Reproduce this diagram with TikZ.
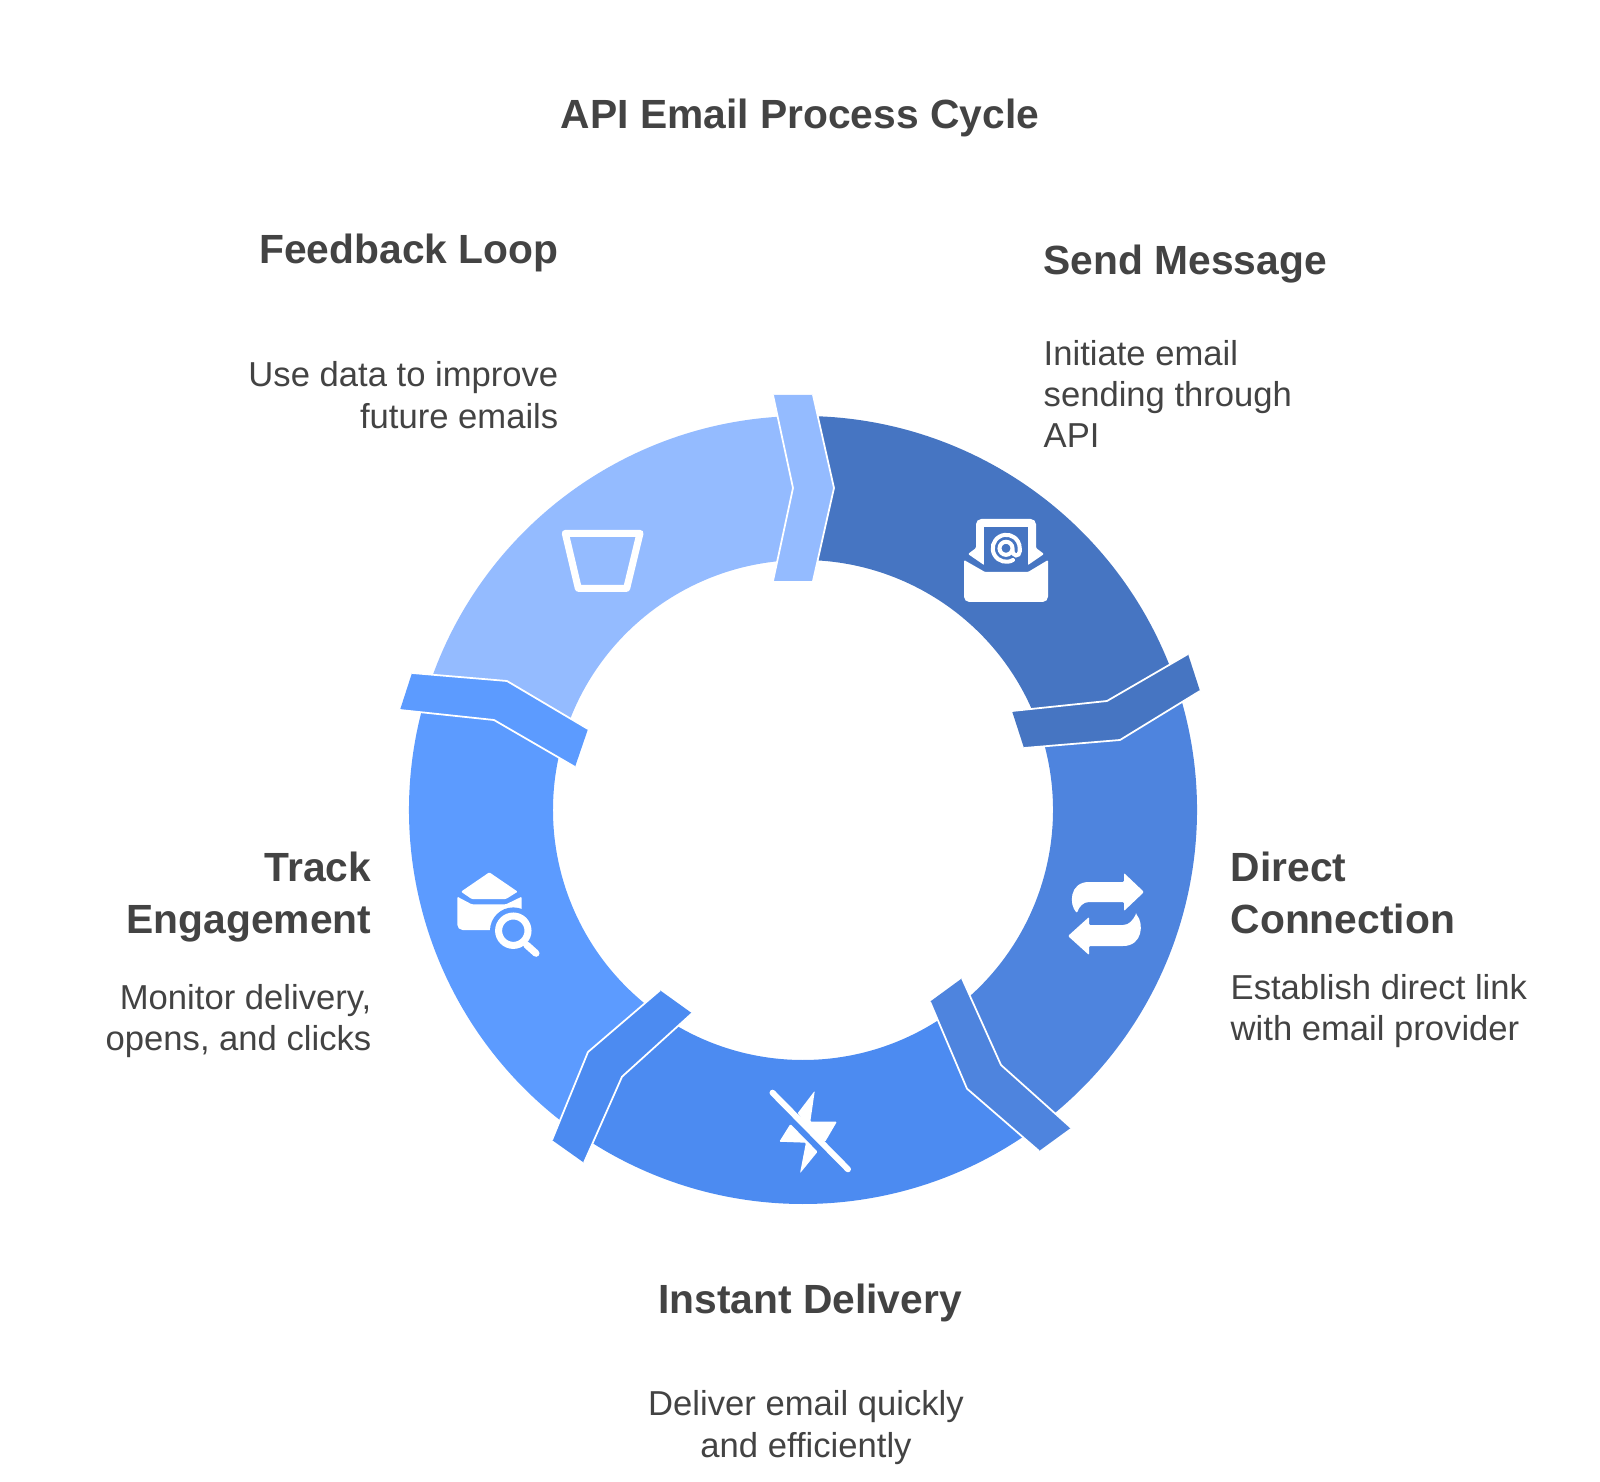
\documentclass[tikz,border=0pt]{standalone}
\usepackage{fontspec}
\setmainfont{Liberation Sans}
\definecolor{segA}{HTML}{4675C2}
\definecolor{segB}{HTML}{4E84DE}
\definecolor{segC}{HTML}{4C8BF1}
\definecolor{segD}{HTML}{5C9BFF}
\definecolor{segE}{HTML}{94BBFF}
\definecolor{ink}{HTML}{434343}
\tikzset{
	seam/.style={white,line width=0.5pt},
	iconfill/.style={white,rounded corners=0.3pt},
	iconline/.style={white,line width=1.15pt,line cap=round},
	headline/.style={text=ink,inner sep=0pt,font=\fontsize{11.6}{14.8}\selectfont\bfseries},
	bodytext/.style={text=ink,inner sep=0pt,font=\fontsize{9.85}{11.75}\selectfont}
}
\begin{document}
\begin{tikzpicture}
	\useasboundingbox (-8.03,-6.71) rectangle (7.97,8.10);
	\fill[segA] (91:3.94) arc (91:19:3.94) -- (3.105,.895) -- (19:2.5) arc (19:91:2.5) -- (.105,3.22) -- cycle;
	\fill[segB] (19:3.94) arc (19:-53:3.94) -- (1.81,-2.668) -- (-53:2.5) arc (-53:19:2.5) -- (3.105,.895) -- cycle;
	\fill[segC] (-53:3.94) arc (-53:-125:3.94) -- (-1.98,-2.543) -- (-125:2.5) arc (-125:-53:2.5) -- (1.81,-2.668) -- cycle;
	\fill[segD] (-125:3.94) arc (-125:-197:3.94) -- (-3.03,1.09) -- (-197:2.5) arc (-197:-125:2.5) -- (-1.98,-2.543) -- cycle;
	\fill[segE] (163:3.94) arc (163:91:3.94) -- (.105,3.22) -- (91:2.5) arc (91:163:2.5) -- (-3.03,1.09) -- cycle;

	\fill[segE] (-.30,4.15) -- (.10,4.15) -- (.31,3.22) -- (.10,2.29) -- (-.30,2.29) -- (-.10,3.22) -- cycle;
	\draw[seam] (-.30,4.15) -- (-.10,3.22) -- (-.30,2.29);
	\draw[seam] (.10,4.15) -- (.31,3.22) -- (.10,2.29);
	\fill[segA] (3.85,1.56) -- (3.97,1.19) -- (3.17,.70) -- (2.21,.62) -- (2.09,.99) -- (3.04,1.09) -- cycle;
	\draw[seam] (3.85,1.56) -- (3.04,1.09) -- (2.09,.99);
	\draw[seam] (3.97,1.19) -- (3.17,.70) -- (2.21,.62);
	\fill[segB] (1.59,-1.683) -- (1.98,-2.55) -- (2.68,-3.177) -- (2.36,-3.41) -- (1.64,-2.787) -- (1.27,-1.917) -- cycle;
	\draw[seam] (1.59,-1.683) -- (1.98,-2.55) -- (2.68,-3.177);
	\draw[seam] (2.36,-3.41) -- (1.64,-2.787) -- (1.27,-1.917);
	\fill[segC] (-1.43,-1.803) -- (-1.11,-2.033) -- (-1.81,-2.667) -- (-2.19,-3.527) -- (-2.51,-3.30) -- (-2.15,-2.42) -- cycle;
	\draw[seam] (-1.11,-2.033) -- (-1.81,-2.667) -- (-2.19,-3.527);
	\draw[seam] (-1.43,-1.803) -- (-2.15,-2.42) -- (-2.51,-3.30);
	\fill[segD] (-3.91,1.37) -- (-2.96,1.29) -- (-2.15,.81) -- (-2.28,.43) -- (-3.09,.90) -- (-4.03,1.00) -- cycle;
	\draw[seam] (-3.91,1.37) -- (-2.96,1.29) -- (-2.15,.81);
	\draw[seam] (-2.28,.43) -- (-3.09,.90) -- (-4.03,1.00);

	% open letter
	\fill[iconfill] (1.65,2.56) -- (1.73,2.62) [rounded corners=1.5pt] -- (1.73,2.91) -- (2.33,2.91) [rounded corners=0.3pt] -- (2.33,2.62) -- (2.41,2.56) -- (2.25,2.45) -- (1.81,2.45) -- cycle;
	\fill[segA] (1.81,2.38) rectangle (2.25,2.83);
	\fill[iconfill] (1.61,2.50) -- (1.82,2.38) -- (2.25,2.38) -- (2.45,2.50) [rounded corners=1.5pt] -- (2.45,2.08) -- (1.61,2.08) [rounded corners=0.3pt] -- cycle;
	\draw[iconline] (2.10,2.50) arc (-60:-360:.135) -- ++(0,-.03) .. controls (2.165,2.53) and (2.095,2.53) .. (2.095,2.60);
	\draw[iconline] (2.03,2.617) circle (.065);

	% two arrows
	\fill[iconfill] (2.74,-1.03) .. controls (2.66,-.95) and (2.66,-.72) .. (2.87,-.72) -- (3.21,-.72) -- (3.21,-.63) -- (3.41,-.82) -- (3.21,-1.01) -- (3.21,-.92) -- (2.87,-.92) .. controls (2.80,-.92) and (2.76,-.97) .. (2.74,-1.03) -- cycle;
	\fill[iconfill] (3.33,-1.04) .. controls (3.41,-1.13) and (3.40,-1.36) .. (3.19,-1.36) -- (2.86,-1.36) -- (2.86,-1.45) -- (2.65,-1.26) -- (2.86,-1.07) -- (2.86,-1.15) -- (3.19,-1.15) .. controls (3.26,-1.15) and (3.30,-1.10) .. (3.33,-1.04) -- cycle;

	% crossed bolt
	\fill[iconfill] (-.054,-3.033) -- (.118,-2.807) -- (.073,-3.117) -- (.339,-3.117) -- (.222,-3.317) -- (.13,-3.27) -- cycle;
	\fill[iconfill] (-.126,-3.14) -- (-.237,-3.317) -- (.029,-3.327) -- (-.03,-3.633) -- (.146,-3.417) -- cycle;
	\draw[iconline,line width=1.7pt] (-.305,-2.827) -- (.45,-3.593);

	% funnel
	\draw[iconline,line width=2pt,line join=round] (-2.377,2.767) -- (-1.63,2.767) -- (-1.763,2.217) -- (-2.247,2.217) -- cycle;

	% letter with lens
	\fill[iconfill] (-3.137,-.623) -- (-2.853,-.817) -- (-2.97,-.89) -- (-3.313,-.89) -- (-3.42,-.817) -- cycle;
	\fill[iconfill] (-3.457,-.867) -- (-3.313,-.943) -- (-2.97,-.943) -- (-2.813,-.867) -- (-2.813,-1.20) [rounded corners=1.5pt] -- (-3.457,-1.20) [rounded corners=0.3pt] -- cycle;
	\fill[segD] (-2.897,-1.207) circle (.233);
	\draw[iconline,line width=2pt] (-2.897,-1.207) circle (.147);
	\draw[iconline,line width=2pt] (-2.763,-1.35) -- (-2.67,-1.433);

	\node[headline,anchor=center] (titlecycle) at (-.03,6.92) {API Email Process Cycle};

	\node[headline,anchor=east] (feedhead) at (-2.44,5.57) {Feedback Loop};
	\node[bodytext,anchor=east,align=right] (feedbody) at (-2.44,4.15) {Use data to improve\\future emails};

	\node[headline,anchor=west] (sendhead) at (2.40,5.46) {Send Message};
	\node[bodytext,anchor=west,align=left] (sendbody) at (2.40,4.16) {Initiate email\\sending through\\API};

	\node[headline,anchor=west,align=left] (directhead) at (4.27,-.83) {Direct\\Connection};
	\node[bodytext,anchor=west,align=left] (directbody) at (4.27,-2.01) {Establish direct link\\with email provider};

	\node[headline,anchor=east,align=right] (trackhead) at (-4.31,-.87) {Track\\Engagement};
	\node[bodytext,anchor=east,align=right] (trackbody) at (-4.31,-2.11) {Monitor delivery,\\opens, and clicks};

	\node[headline,anchor=center] (instanthead) at (.07,-4.93) {Instant Delivery};
	\node[bodytext,anchor=center,align=center] (instantbody) at (.03,-6.175) {Deliver email quickly\\and efficiently};
\end{tikzpicture}
\end{document}
